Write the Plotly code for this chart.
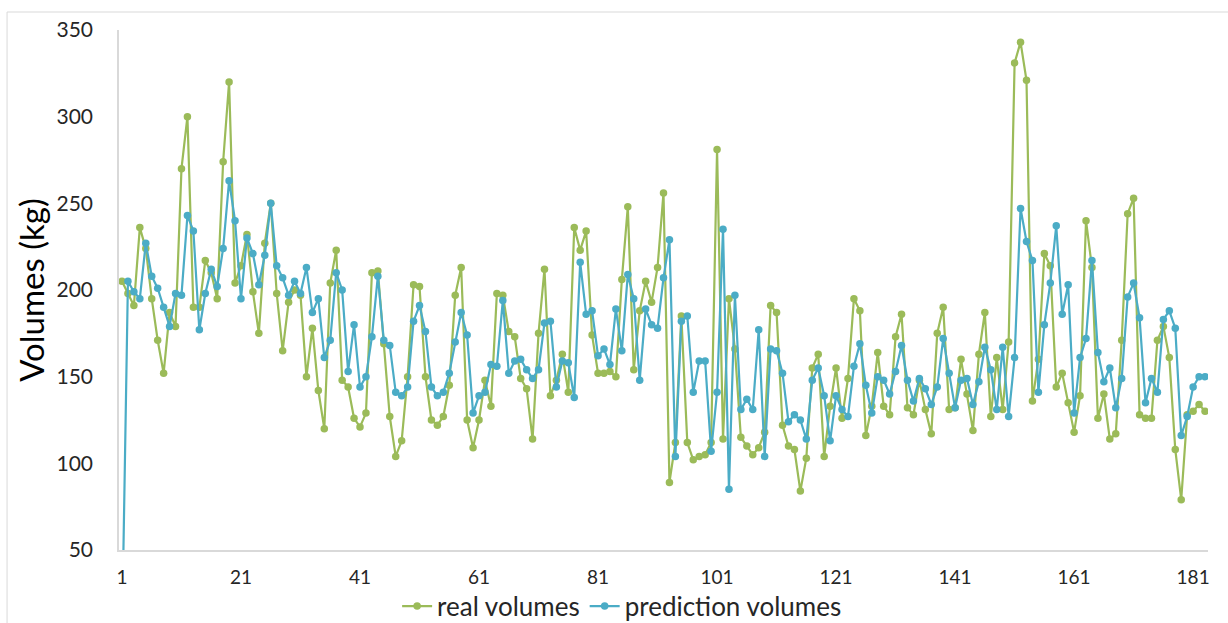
import plotly.graph_objects as go

real_volumes = [205, 198, 191, 236, 224, 195, 171, 152, 187, 179,
                270, 300, 190, 190, 217, 210, 195, 274, 320, 204,
                214, 232, 199, 175, 227, 250, 198, 165, 193, 200,
                197, 150, 178, 142, 120, 204, 223, 148, 144, 126,
                121, 129, 210, 211, 169, 127, 104, 113, 150, 203,
                202, 150, 125, 122, 127, 145, 197, 213, 125, 109,
                125, 148, 133, 198, 197, 176, 173, 149, 143, 114,
                175, 212, 139, 148, 163, 141, 236, 223, 234, 174,
                152, 152, 153, 150, 206, 248, 154, 188, 205, 193,
                213, 256, 89, 112, 185, 112, 102, 104, 105, 112,
                281, 114, 195, 166, 115, 110, 105, 109, 118, 191,
                187, 122, 110, 108, 84, 103, 155, 163, 104, 133,
                155, 126, 149, 195, 188, 116, 133, 164, 133, 128,
                173, 186, 132, 128, 148, 131, 117, 175, 190, 131,
                132, 160, 140, 119, 163, 187, 127, 161, 131, 170,
                331, 343, 321, 136, 160, 221, 214, 144, 152, 135,
                118, 139, 240, 213, 126, 140, 114, 117, 171, 244,
                253, 128, 126, 126, 171, 179, 161, 108, 79, 128,
                130, 134, 130]

prediction_volumes = [0, 205, 199, 195, 227, 208, 201, 190, 179, 198,
                      197, 243, 234, 177, 198, 212, 202, 224, 263, 240,
                      195, 230, 221, 203, 220, 250, 214, 207, 197, 205,
                      198, 213, 187, 195, 161, 171, 210, 200, 153, 180,
                      144, 150, 173, 208, 171, 168, 141, 139, 144, 182,
                      191, 176, 144, 139, 141, 152, 170, 187, 174, 129,
                      139, 141, 157, 156, 194, 152, 159, 160, 154, 149,
                      154, 181, 182, 144, 159, 158, 138, 216, 186, 188,
                      162, 166, 157, 189, 165, 209, 195, 148, 189, 180,
                      178, 207, 229, 104, 182, 185, 141, 159, 159, 107,
                      141, 235, 85, 197, 131, 137, 131, 177, 104, 166,
                      165, 152, 124, 128, 125, 114, 148, 155, 139, 113,
                      139, 131, 127, 156, 169, 145, 129, 150, 148, 140,
                      153, 168, 148, 136, 149, 143, 134, 144, 172, 152,
                      132, 148, 149, 134, 147, 167, 154, 131, 167, 127,
                      161, 247, 228, 217, 141, 180, 204, 237, 186, 203,
                      129, 161, 172, 217, 164, 147, 155, 132, 149, 196,
                      204, 184, 135, 149, 141, 183, 188, 178, 116, 127,
                      144, 150, 150]

x_index = list(range(1, len(real_volumes) + 1))
x_tick_values = list(range(1, 182, 20))
y_tick_values = [50, 100, 150, 200, 250, 300, 350]

GREEN = "#9BBB59"
BLUE = "#4BACC6"
FONT = "Lato"

fig = go.Figure()
fig.add_trace(go.Scatter(
    x=x_index, y=real_volumes, name="real volumes", mode="lines+markers",
    line=dict(color=GREEN, width=2.2), marker=dict(color=GREEN, size=7.5),
))
fig.add_trace(go.Scatter(
    x=x_index, y=prediction_volumes, name="prediction volumes", mode="lines+markers",
    line=dict(color=BLUE, width=2.2), marker=dict(color=BLUE, size=7.5),
))

fig.update_layout(
    width=1228, height=623,
    margin=dict(l=119, r=20, t=30, b=73, autoexpand=False),
    paper_bgcolor="white", plot_bgcolor="white",
    font=dict(family=FONT, color="#404040"),
    showlegend=True,
    legend=dict(orientation="h", x=0.462, xanchor="center", y=-0.108, yanchor="middle",
                font=dict(family=FONT, size=26, color="#262626"),
                bgcolor="rgba(0,0,0,0)", borderwidth=0,
                itemwidth=30, tracegroupgap=0),
    shapes=[dict(type="rect", xref="paper", yref="paper",
                 x0=-0.1028, x1=1.2, y0=-0.5, y1=1.0346,
                 line=dict(color="#D9D9D9", width=1), fillcolor="rgba(0,0,0,0)",
                 layer="below")],
)
fig.update_xaxes(
    range=[0.5, len(real_volumes) + 0.5],
    tickvals=x_tick_values, ticktext=[str(v) for v in x_tick_values],
    showgrid=False, zeroline=False, showline=True, linecolor="#D9D9D9", linewidth=1.5,
    ticks="", tickfont=dict(family=FONT, size=19, color="#262626"),
    ticklabelstandoff=9,
)
fig.update_yaxes(
    range=[50, 350], tickvals=y_tick_values,
    showgrid=False, zeroline=False, showline=True, linecolor="#D9D9D9", linewidth=1.5,
    ticks="", tickfont=dict(family=FONT, size=21, color="#262626"),
    ticklabelstandoff=20,
    title=dict(text="Volumes (kg)", font=dict(family=FONT, size=33, color="#000000"), standoff=2),
)

fig.write_html("out.html")
